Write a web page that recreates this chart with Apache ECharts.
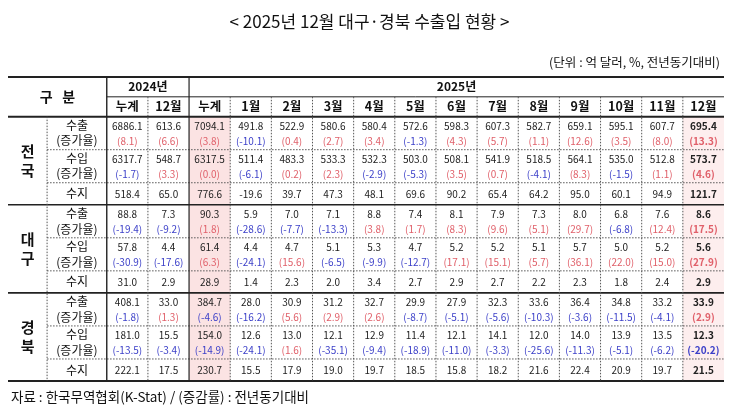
<!DOCTYPE html>
<html><head><meta charset="utf-8">
<script src="https://cdn.jsdelivr.net/npm/echarts@6/dist/echarts.min.js"></script>
<style>html,body{margin:0;background:#fff}#c{width:739px;height:409px}</style></head>
<body><div id="c"></div>
<script>
const regions = ['전\n국','대\n구','경\n북'];
const colHeaders = ['누계','12월','누계','1월','2월','3월','4월','5월','6월','7월','8월','9월','10월','11월','12월'];
const yearHeaders = ['2024년','2025년'];
const jgExport = [6886.1,613.6,7094.1,491.8,522.9,580.6,580.4,572.6,598.3,607.3,582.7,659.1,595.1,607.7,695.4];
const jgExportRate = [8.1,6.6,3.8,-10.1,0.4,2.7,3.4,-1.3,4.3,5.7,1.1,12.6,3.5,8.0,13.3];
const jgImport = [6317.7,548.7,6317.5,511.4,483.3,533.3,532.3,503.0,508.1,541.9,518.5,564.1,535.0,512.8,573.7];
const jgImportRate = [-1.7,3.3,0.0,-6.1,0.2,2.3,-2.9,-5.3,3.5,0.7,-4.1,8.3,-1.5,1.1,4.6];
const jgBalance = [518.4,65.0,776.6,-19.6,39.7,47.3,48.1,69.6,90.2,65.4,64.2,95.0,60.1,94.9,121.7];
const dgExport = [88.8,7.3,90.3,5.9,7.0,7.1,8.8,7.4,8.1,7.9,7.3,8.0,6.8,7.6,8.6];
const dgExportRate = [-19.4,-9.2,1.8,-28.6,-7.7,-13.3,3.8,1.7,8.3,9.6,5.1,29.7,-6.8,12.4,17.5];
const dgImport = [57.8,4.4,61.4,4.4,4.7,5.1,5.3,4.7,5.2,5.2,5.1,5.7,5.0,5.2,5.6];
const dgImportRate = [-30.9,-17.6,6.3,-24.1,15.6,-6.5,-9.9,-12.7,17.1,15.1,5.7,36.1,22.0,15.0,27.9];
const dgBalance = [31.0,2.9,28.9,1.4,2.3,2.0,3.4,2.7,2.9,2.7,2.2,2.3,1.8,2.4,2.9];
const gbExport = [408.1,33.0,384.7,28.0,30.9,31.2,32.7,29.9,27.9,32.3,33.6,36.4,34.8,33.2,33.9];
const gbExportRate = [-1.8,1.3,-4.6,-16.2,5.6,2.9,2.6,-8.7,-5.1,-5.6,-10.3,-3.6,-11.5,-4.1,2.9];
const gbImport = [181.0,15.5,154.0,12.6,13.0,12.1,12.9,11.4,12.1,14.1,12.0,14.0,13.9,13.5,12.3];
const gbImportRate = [-13.5,-3.4,-14.9,-24.1,1.6,-35.1,-9.4,-18.9,-11.0,-3.3,-25.6,-11.3,-5.1,-6.2,-20.2];
const gbBalance = [222.1,17.5,230.7,15.5,17.9,19.0,19.7,18.5,15.8,18.2,21.6,22.4,20.9,19.7,21.5];

const FONT = '"Noto Sans CJK KR", sans-serif';
const RED = '#e0606a', BLUE = '#3b3fc8';
const regionData = [
  [jgExport,jgExportRate,jgImport,jgImportRate,jgBalance],
  [dgExport,dgExportRate,dgImport,dgImportRate,dgBalance],
  [gbExport,gbExportRate,gbImport,gbImportRate,gbBalance]
];
const fmt = v => v.toFixed(1);
const cells = [];
const H1 = -3.6, H2 = -1.8;
cells.push([-2.4,0,H1,0,'구   분','#111',14,'bold',null]);
cells.push([0,2,H1,H2,yearHeaders[0],'#111',12,'bold',null]);
cells.push([2,15,H1,H2,yearHeaders[1],'#111',12,'bold',null]);
colHeaders.forEach((h,i)=>cells.push([i,i+1,H2,0,h,'#111',12.5,'bold',null]));
cells.push([2,3,0,24,'','#111',10,'normal','#fbe3e3']);
cells.push([14,15,0,24,'','#111',10,'normal','#fdeeee']);
regionData.forEach((rd,r)=>{
  const b = r*8;
  cells.push([-2.4,-1.45,b,b+8,regions[r],'#111',15,'bold',null]);
  cells.push([-1.45,0,b,b+1.6,'수출','#111',12,'normal',null]);
  cells.push([-1.45,0,b+1.4,b+3,'(증가율)','#111',12,'normal',null]);
  cells.push([-1.45,0,b+3,b+4.6,'수입','#111',12,'normal',null]);
  cells.push([-1.45,0,b+4.4,b+6,'(증가율)','#111',12,'normal',null]);
  cells.push([-1.45,0,b+6,b+8,'수지','#111',12,'normal',null]);
  for(let i=0;i<15;i++){
    const bold = i===14 ? 'bold':'normal';
    const rc = v => v>=0 ? RED : BLUE;
    cells.push([i,i+1,b,b+1.7,fmt(rd[0][i]),'#222',10,bold,null]);
    cells.push([i,i+1,b+1.4,b+3,'('+fmt(rd[1][i])+')',rc(rd[1][i]),10,bold,null]);
    cells.push([i,i+1,b+3,b+4.7,fmt(rd[2][i]),'#222',10,bold,null]);
    cells.push([i,i+1,b+4.4,b+6,'('+fmt(rd[3][i])+')',rc(rd[3][i]),10,bold,null]);
    cells.push([i,i+1,b+6,b+8,fmt(rd[4][i]),'#222',10,bold,null]);
  }
});
cells.sort((a,b)=>(b[8]?1:0)-(a[8]?1:0));
const lines = [];
lines.push([-2.4,H1,15,H1,2,0],[0,H2,15,H2,1,0],[-2.4,0,15,0,2,0],[-2.4,8,15,8,1.6,0],[-2.4,16,15,16,1.6,0],[-2.4,24,15,24,2,0]);
[0,8,16].forEach(b=>{[3,6].forEach(o=>lines.push([-1.45,b+o,15,b+o,1,1]));});
lines.push([-1.45,0,-1.45,24,1,1],[0,H1,0,24,1.4,0],[2,H1,2,24,1.2,0]);
for(let i=1;i<15;i++){ if(i!==2) lines.push([i,H2,i,24,1,1]); }

const chart = echarts.init(document.getElementById('c'));
chart.setOption({
  animation:false,
  title:[
    {text:'< 2025년 12월 대구·경북 수출입 현황 >',left:'center',top:8,textStyle:{fontFamily:FONT,fontSize:17,fontWeight:'normal',color:'#111'}},
    {text:'(단위 : 억 달러, %, 전년동기대비)',right:14,top:51,textStyle:{fontFamily:FONT,fontSize:12.5,fontWeight:'normal',color:'#111'}},
    {text:'자료 : 한국무역협회(K-Stat) / (증감률) : 전년동기대비',left:6,top:385,textStyle:{fontFamily:FONT,fontSize:13.5,fontWeight:'normal',color:'#111'}}
  ],
  grid:{left:8,right:15,top:77,bottom:28},
  xAxis:{type:'value',min:-2.4,max:15,show:false},
  yAxis:{type:'value',min:H1,max:24,inverse:true,show:false},
  series:[
    {type:'custom',data:cells.map((c,i)=>[c[0],c[1],c[2],c[3],i]),encode:{x:[0,1],y:[2,3]},
     renderItem:(params,api)=>{
       const c = cells[api.value(4)];
       const p0 = api.coord([c[0],c[2]]), p1 = api.coord([c[1],c[3]]);
       if(c[8]) return {type:'rect',shape:{x:p0[0],y:p0[1],width:p1[0]-p0[0],height:p1[1]-p0[1]},style:{fill:c[8]}};
       return {type:'text',x:(p0[0]+p1[0])/2,y:(p0[1]+p1[1])/2,style:{text:c[4],fill:c[5],font:c[7]+' '+c[6]+'px '+FONT,align:'center',verticalAlign:'middle',lineHeight:c[6]+4}};
     }},
    {type:'custom',data:lines.map((l,i)=>[l[0],l[1],l[2],l[3],i]),encode:{x:[0,2],y:[1,3]},
     renderItem:(params,api)=>{
       const l = lines[api.value(4)];
       const a = api.coord([l[0],l[1]]), b = api.coord([l[2],l[3]]);
       return {type:'line',shape:{x1:a[0],y1:a[1],x2:b[0],y2:b[1]},style:{stroke:l[5]?'#555':'#222',lineWidth:l[4],lineDash:l[5]?[1.5,1.5]:null}};
     }}
  ]
});
</script></body></html>
